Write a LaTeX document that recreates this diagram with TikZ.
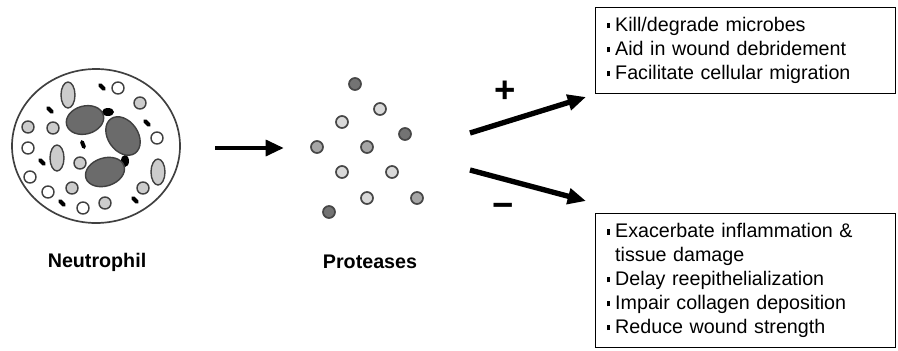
\documentclass[tikz,border=0pt]{standalone}
\usepackage{fontspec}
\setmainfont{Liberation Sans}
\usetikzlibrary{arrows.meta}

\newcommand{\sqb}{\rule[2.4pt]{2.6pt}{3.8pt}\hspace{3.5pt}}

\begin{document}
\begin{tikzpicture}[x=0.025cm,y=-0.025cm,
    rim/.style={draw=black!75,line width=1pt},
    lobe/.style={rim,fill=black!58},
    pale/.style={rim,fill=black!20},
    clear/.style={rim,fill=white},
    speck/.style={line width=2.8pt,line cap=round},
    dot/.style={draw=black!72,line width=1.2pt},
    bigarrow/.style={line width=3.4pt,-{Triangle[length=13pt,width=11pt]}},
    notebox/.style={draw,line width=0.9pt,anchor=north west,align=left,
      text width=6.95cm,inner xsep=0.275cm,
      font=\fontsize{14}{17}\selectfont},
    caption/.style={font=\bfseries\fontsize{14}{16}\selectfont}]
  \useasboundingbox (0,0) rectangle (898,350);

  % neutrophil
  \draw[rim,line width=1.2pt] (96,146) ellipse (84 and 77);
  \fill[black] (108,112) ellipse (6 and 4);
  \fill[black] (125,161) ellipse (4 and 6);
  \draw[lobe,rotate around={15:(85,120)}] (85,120) ellipse (19 and 14);
  \draw[lobe,rotate around={-55:(123,136)}] (123,136) ellipse (21 and 15);
  \draw[lobe,rotate around={18:(105,172)}] (105,172) ellipse (20 and 14);
  \draw[pale] (68,95) ellipse (7 and 13);
  \draw[pale] (57,158) ellipse (7 and 13);
  \draw[pale] (158,172) ellipse (7 and 13);
  \draw[clear] (118,88) circle (6);
  \draw[clear] (157,138) circle (6);
  \draw[clear] (28,148) circle (6);
  \draw[clear] (30,177) circle (6);
  \draw[clear] (48,192) circle (6);
  \draw[clear] (83,208) circle (6);
  \draw[pale] (140,103) circle (6);
  \draw[pale] (28,127) circle (6);
  \draw[pale] (53,128) circle (6);
  \draw[pale] (80,163) circle (6);
  \draw[pale] (72,188) circle (6);
  \draw[pale] (105,203) circle (6);
  \draw[pale] (143,188) circle (6);
  \draw[speck] (100,85) -- (104,89);
  \draw[speck] (48,108) -- (52,112);
  \draw[speck] (82,142) -- (84,147);
  \draw[speck] (40,160) -- (44,164);
  \draw[speck] (145,121) -- (149,125);
  \draw[speck] (60,201) -- (64,205);
  \draw[speck] (133,198) -- (137,202);
  \node[caption] (neutro) at (97,262) {Neutrophil};

  \coordinate (h0) at (215,148);
  \coordinate (h1) at (284,148);
  \draw[bigarrow] (h0) -- (h1);

  % proteases
  \draw[dot,fill=black!55] (355,84) circle (6);
  \draw[dot,fill=black!15] (380,109) circle (6);
  \draw[dot,fill=black!15] (342,122) circle (6);
  \draw[dot,fill=black!55] (405,134) circle (6);
  \draw[dot,fill=black!35] (317,147) circle (6);
  \draw[dot,fill=black!35] (367,147) circle (6);
  \draw[dot,fill=black!15] (342,172) circle (6);
  \draw[dot,fill=black!15] (392,172) circle (6);
  \draw[dot,fill=black!15] (367,198) circle (6);
  \draw[dot,fill=black!35] (417,198) circle (6);
  \draw[dot,fill=black!55] (329,212) circle (6);
  \node[caption] (prot) at (370,262) {Proteases};

  \coordinate (up0) at (470,133);
  \coordinate (up1) at (586,97);
  \draw[bigarrow,line width=3.8pt] (up0) -- (up1);
  \node[font=\bfseries\fontsize{26}{26}\selectfont] (plus) at (505,92) {+};

  \coordinate (dn0) at (470,170);
  \coordinate (dn1) at (586,201);
  \draw[bigarrow,line width=3.8pt] (dn0) -- (dn1);
  \node[font=\bfseries\fontsize{26}{26}\selectfont] (minus) at (503,210) {−};

  \node[notebox,minimum height=2.15cm] (good) at (595,7)
    {\sqb Kill/degrade microbes\\
     \sqb Aid in wound debridement\\
     \sqb Facilitate cellular migration};
  \node[notebox,minimum height=3.35cm] (bad) at (595,213)
    {\sqb Exacerbate inflammation \&\\
     \phantom{\sqb}tissue damage\\
     \sqb Delay reepithelialization\\
     \sqb Impair collagen deposition\\
     \sqb Reduce wound strength};
\end{tikzpicture}
\end{document}
